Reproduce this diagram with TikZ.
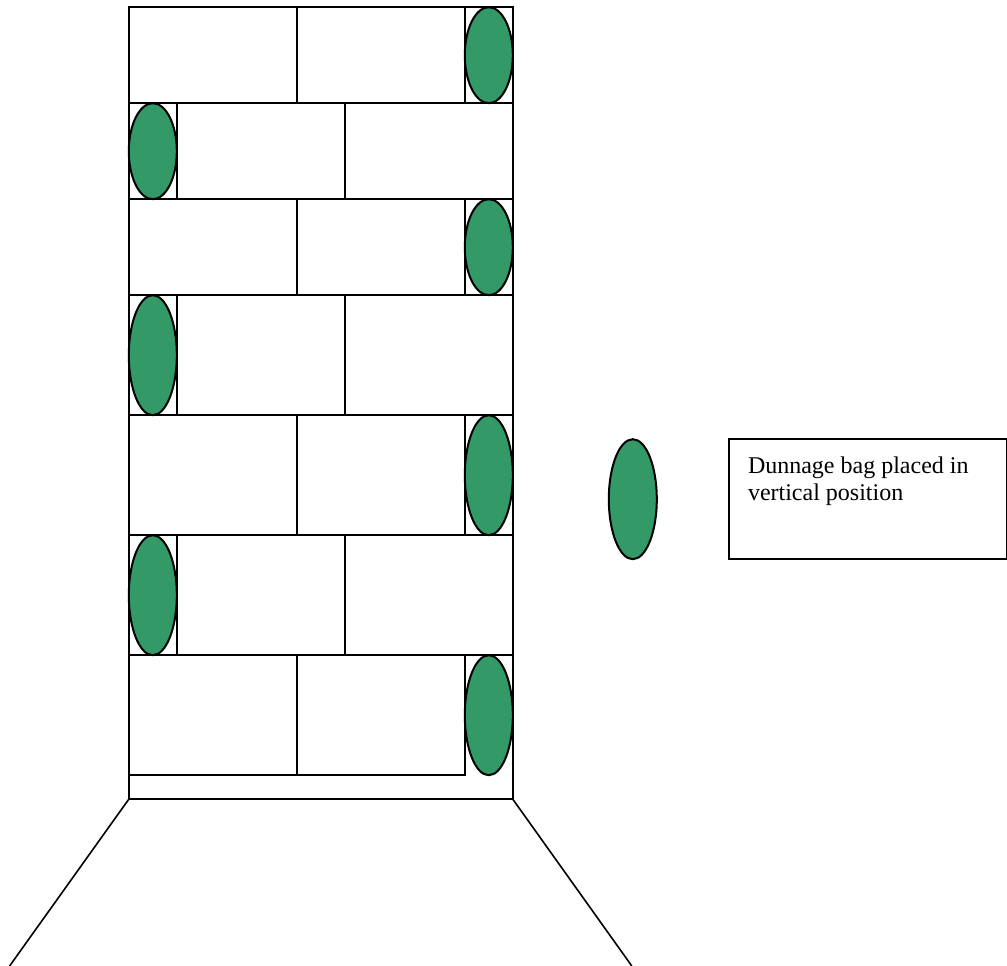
\documentclass[tikz,border=0pt]{standalone}
\usepackage{fontspec}
\setmainfont{Liberation Serif}
\definecolor{bagfill}{HTML}{339966}
\tikzset{
  brick/.style={draw=black,line width=2pt,fill=white},
  bag/.style={draw=black,line width=2pt,fill=bagfill},
  wall/.style={draw=black,line width=2pt},
  ramp/.style={draw=black,line width=1.6pt},
  labelbox/.style={draw=black,line width=2pt,fill=white,anchor=north west,minimum width=278pt,minimum height=120pt,inner sep=0pt,outer sep=0pt},
  labeltext/.style={anchor=north west,align=left,inner sep=0pt,font=\fontsize{24pt}{27pt}\selectfont}
}
\begin{document}
\begin{tikzpicture}[x=1pt,y=-1pt]
\useasboundingbox (0,0) rectangle (1007,966);
\begin{scope}[shift={(-0.2,-0.3)}]
% container
\draw[wall] (129,7.5) rectangle (513,799.5);
\coordinate (baseL) at (129,799.5);
\coordinate (baseR) at (513,799.5);
\coordinate (floorL) at (9.8,966.3);
\coordinate (floorR) at (632,966.3);
\draw[ramp] (baseL) -- (floorL);
\draw[ramp] (baseR) -- (floorR);
\draw[wall] (baseL) -- (baseR);
% rows with the bag at the right
\foreach \t/\b in {7.5/103.5,199.5/295.5,415.5/535.5,655.5/775.5}{
  \draw[brick] (129,\t) rectangle (297,\b);
  \draw[brick] (297,\t) rectangle (465,\b);
}
% rows with the bag at the left
\foreach \t/\b in {103.5/199.5,295.5/415.5,535.5/655.5}{
  \draw[brick] (129,\t) rectangle (177,\b);
  \draw[brick] (177,\t) rectangle (345,\b);
  \draw[brick] (345,\t) rectangle (513,\b);
}
% right-hand bags
\foreach \t/\b in {7.5/103.5,199.5/295.5,415.5/535.5,655.5/775.5}{
  \pgfmathsetmacro{\c}{(\t+\b)/2}
  \pgfmathsetmacro{\r}{(\b-\t)/2}
  \draw[bag] (489,\c) ellipse [x radius=24,y radius=\r];
}
% left-hand bags
\foreach \t/\b in {103.5/199.5,295.5/415.5,535.5/655.5}{
  \pgfmathsetmacro{\c}{(\t+\b)/2}
  \pgfmathsetmacro{\r}{(\b-\t)/2}
  \draw[bag] (153,\c) ellipse [x radius=24,y radius=\r];
}
% legend
\draw[bag] (633,499.5) ellipse [x radius=24,y radius=60];
\node[labelbox] (legend) at (729,439.5) {};
\node[labeltext] (legendtext) at (748,456.5) {Dunnage bag placed in\\vertical position};
\end{scope}
\end{tikzpicture}
\end{document}
